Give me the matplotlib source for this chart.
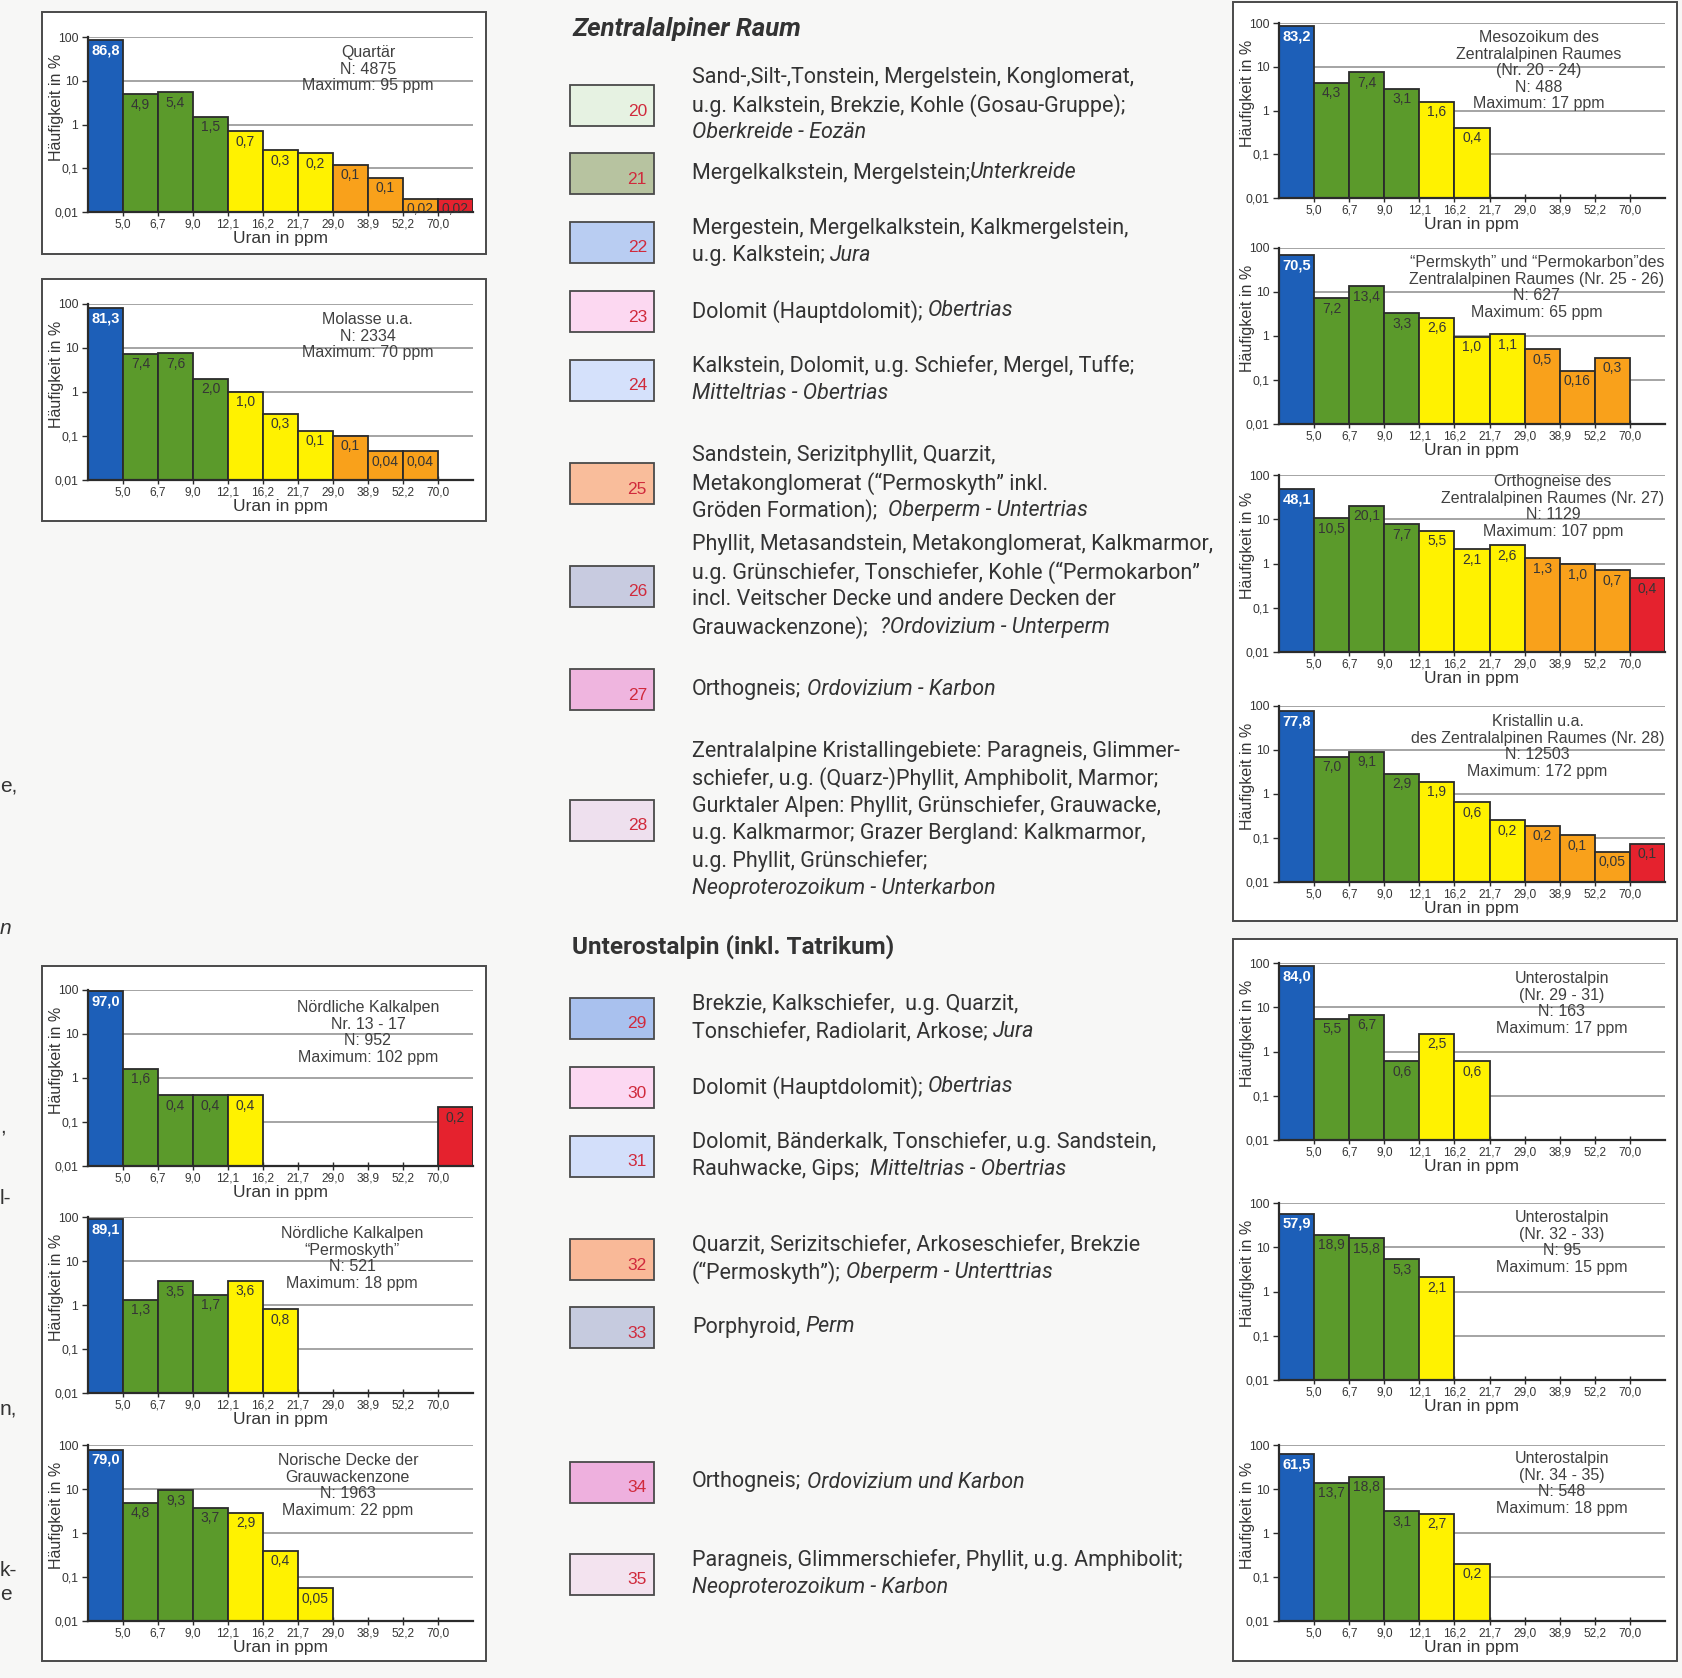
import matplotlib
matplotlib.use("Agg")
import matplotlib.pyplot as plt
from matplotlib.patches import Rectangle
from matplotlib.ticker import NullLocator

W, H = 1683, 1678
CHART_FONT = "Liberation Sans"
LEGEND_FONT = "Roboto"
TXT = "#353535"

# --- data ---------------------------------------------------------------
bin_edges = ["5,0", "6,7", "9,0", "12,1", "16,2", "21,7", "29,0", "38,9", "52,2", "70,0"]
bin_colors = ["#1d5fb8"] + ["#5b9a2b"] * 3 + ["#fff200"] * 3 + ["#f9a11b"] * 3 + ["#e5222e"]

quartaer_h = [86.8, 4.9, 5.4, 1.5, 0.7, 0.26, 0.22, 0.12, 0.06, 0.02, 0.02]
quartaer_lbl = ["86,8", "4,9", "5,4", "1,5", "0,7", "0,3", "0,2", "0,1", "0,1", "0,02", "0,02"]
molasse_h = [81.3, 7.4, 7.6, 2.0, 1.0, 0.32, 0.13, 0.1, 0.045, 0.045]
molasse_lbl = ["81,3", "7,4", "7,6", "2,0", "1,0", "0,3", "0,1", "0,1", "0,04", "0,04"]
nka_h = [97.0, 1.6, 0.41, 0.41, 0.41, 0, 0, 0, 0, 0, 0.215]
nka_lbl = ["97,0", "1,6", "0,4", "0,4", "0,4", "", "", "", "", "", "0,2"]
nka_perm_h = [89.1, 1.3, 3.5, 1.7, 3.6, 0.8]
nka_perm_lbl = ["89,1", "1,3", "3,5", "1,7", "3,6", "0,8"]
norisch_h = [79.0, 4.8, 9.3, 3.7, 2.9, 0.4, 0.055]
norisch_lbl = ["79,0", "4,8", "9,3", "3,7", "2,9", "0,4", "0,05"]
meso_h = [83.2, 4.3, 7.4, 3.1, 1.6, 0.4]
meso_lbl = ["83,2", "4,3", "7,4", "3,1", "1,6", "0,4"]
permo_h = [70.5, 7.2, 13.4, 3.3, 2.6, 0.95, 1.1, 0.5, 0.16, 0.32]
permo_lbl = ["70,5", "7,2", "13,4", "3,3", "2,6", "1,0", "1,1", "0,5", "0,16", "0,3"]
ortho_h = [48.1, 10.5, 20.1, 7.7, 5.5, 2.1, 2.6, 1.3, 0.97, 0.71, 0.46]
ortho_lbl = ["48,1", "10,5", "20,1", "7,7", "5,5", "2,1", "2,6", "1,3", "1,0", "0,7", "0,4"]
krist_h = [77.8, 7.0, 9.1, 2.9, 1.9, 0.65, 0.25, 0.19, 0.115, 0.049, 0.074]
krist_lbl = ["77,8", "7,0", "9,1", "2,9", "1,9", "0,6", "0,2", "0,2", "0,1", "0,05", "0,1"]
uo1_h = [84.0, 5.5, 6.7, 0.6, 2.5, 0.6]
uo1_lbl = ["84,0", "5,5", "6,7", "0,6", "2,5", "0,6"]
uo2_h = [57.9, 18.9, 15.8, 5.3, 2.1]
uo2_lbl = ["57,9", "18,9", "15,8", "5,3", "2,1"]
uo3_h = [61.5, 13.7, 18.8, 3.1, 2.7, 0.2]
uo3_lbl = ["61,5", "13,7", "18,8", "3,1", "2,7", "0,2"]

titles = {
    "A": "Quartär\nN: 4875\nMaximum: 95 ppm",
    "B": "Molasse u.a.\nN: 2334\nMaximum: 70 ppm",
    "C": "Nördliche Kalkalpen\nNr. 13 - 17\nN: 952\nMaximum: 102 ppm",
    "D": "Nördliche Kalkalpen\n“Permoskyth”\nN: 521\nMaximum: 18 ppm",
    "E": "Norische Decke der\nGrauwackenzone\nN: 1963\nMaximum: 22 ppm",
    "F": "Mesozoikum des\nZentralalpinen Raumes\n(Nr. 20 - 24)\nN: 488\nMaximum: 17 ppm",
    "G": "“Permskyth” und “Permokarbon”des\nZentralalpinen Raumes (Nr. 25 - 26)\nN: 627\nMaximum: 65 ppm",
    "H": "Orthogneise des\nZentralalpinen Raumes (Nr. 27)\nN: 1129\nMaximum: 107 ppm",
    "I": "Kristallin u.a.\ndes Zentralalpinen Raumes (Nr. 28)\nN: 12503\nMaximum: 172 ppm",
    "J": "Unterostalpin\n(Nr. 29 - 31)\nN: 163\nMaximum: 17 ppm",
    "K": "Unterostalpin\n(Nr. 32 - 33)\nN: 95\nMaximum: 15 ppm",
    "L": "Unterostalpin\n(Nr. 34 - 35)\nN: 548\nMaximum: 18 ppm",
}

legend_nums = list(range(20, 36))
legend_colors = ["#e6f2e2", "#b7c3a0", "#b9cdf2", "#fcd8f1", "#d5e1fb", "#f9bd9b", "#c8cbe0", "#efb5df",
                 "#eee0ee", "#a9c1ee", "#fcd8f2", "#d3dffa", "#f9b998", "#c6cbdf", "#eeb0de", "#f3e3ef"]
legend_texts = [
    ["Sand-,Silt-,Tonstein, Mergelstein, Konglomerat,", "u.g. Kalkstein, Brekzie, Kohle (Gosau-Gruppe);",
     "*Oberkreide - Eozän*"],
    ["Mergelkalkstein, Mergelstein;*Unterkreide*"],
    ["Mergestein, Mergelkalkstein, Kalkmergelstein,", "u.g. Kalkstein; *Jura*"],
    ["Dolomit (Hauptdolomit); *Obertrias*"],
    ["Kalkstein, Dolomit, u.g. Schiefer, Mergel, Tuffe;", "*Mitteltrias - Obertrias*"],
    ["Sandstein, Serizitphyllit, Quarzit,", "Metakonglomerat (“Permoskyth” inkl.",
     "Gröden Formation);  *Oberperm - Untertrias*"],
    ["Phyllit, Metasandstein, Metakonglomerat, Kalkmarmor,", "u.g. Grünschiefer, Tonschiefer, Kohle (“Permokarbon”",
     "incl. Veitscher Decke und andere Decken der", "Grauwackenzone);  *?Ordovizium - Unterperm*"],
    ["Orthogneis; *Ordovizium - Karbon*"],
    ["Zentralalpine Kristallingebiete: Paragneis, Glimmer-", "schiefer, u.g. (Quarz-)Phyllit, Amphibolit, Marmor;",
     "Gurktaler Alpen: Phyllit, Grünschiefer, Grauwacke,", "u.g. Kalkmarmor; Grazer Bergland: Kalkmarmor,",
     "u.g. Phyllit, Grünschiefer;", "*Neoproterozoikum - Unterkarbon*"],
    ["Brekzie, Kalkschiefer,  u.g. Quarzit,", "Tonschiefer, Radiolarit, Arkose; *Jura*"],
    ["Dolomit (Hauptdolomit); *Obertrias*"],
    ["Dolomit, Bänderkalk, Tonschiefer, u.g. Sandstein,", "Rauhwacke, Gips;  *Mitteltrias - Obertrias*"],
    ["Quarzit, Serizitschiefer, Arkoseschiefer, Brekzie", "(“Permoskyth”); *Oberperm - Unterttrias*"],
    ["Porphyroid, *Perm*"],
    ["Orthogneis; *Ordovizium und Karbon*"],
    ["Paragneis, Glimmerschiefer, Phyllit, u.g. Amphibolit;", "*Neoproterozoikum - Karbon*"],
]
edge_fragments = [("e,", False), ("n", True), (",", False), ("l-", False), ("n,", False), ("k-", False), ("e", False)]

# --- layout (pixels) ----------------------------------------------------
legend_tops = [85, 153, 222, 291, 360, 463, 566, 669, 800, 998, 1067, 1136, 1239, 1307, 1462, 1554]
fragment_y = [786, 929, 1127, 1199, 1409, 1570, 1595]

fig = plt.figure(figsize=(W / 100, H / 100), dpi=100, facecolor="#f7f7f6")
renderer = fig.canvas.get_renderer()


def fx(x):
    return x / W


def fy(y):
    return 1 - y / H


def frame(x0, y0, x1, y1):
    fig.add_artist(Rectangle((fx(x0), fy(y1)), (x1 - x0) / W, (y1 - y0) / H, transform=fig.transFigure,
                             facecolor="white", edgecolor="#4a4a4a", lw=1.4, zorder=-5))


def chart(x0, x1, ytop, ybot, heights, labels, title, tx, tdy):
    ax = fig.add_axes([fx(x0), fy(ybot), (x1 - x0) / W, (ybot - ytop) / H])
    ax.set_facecolor("none")
    ax.set_yscale("log")
    ax.set_ylim(0.01, 100)
    ax.set_xlim(0, 11)
    for v in [0.1, 1, 10, 100]:
        ax.axhline(v, color="#8c8c8c", lw=1.1, zorder=0)
    xs = [i for i, h in enumerate(heights) if h > 0]
    ax.bar(xs, [heights[i] for i in xs], width=1, align="edge", color=[bin_colors[i] for i in xs],
           edgecolor="#2b2b2b", lw=1.3, zorder=2)
    for i in xs:
        blue = i == 0
        ax.annotate(labels[i], xy=(i + 0.5, heights[i]), xytext=(0, -2.5), textcoords="offset points",
                    ha="center", va="top", fontsize=10.5 if blue else 10, family=CHART_FONT,
                    color="white" if blue else TXT, weight="bold" if blue else "normal", zorder=3)
    ax.set_xticks(range(1, 11))
    ax.set_xticklabels(bin_edges, fontsize=8.6, family=CHART_FONT, color=TXT)
    ax.set_yticks([0.01, 0.1, 1, 10, 100])
    ax.set_yticklabels(["0,01", "0,1", "1", "10", "100"], fontsize=8.8, family=CHART_FONT, color=TXT)
    ax.yaxis.set_minor_locator(NullLocator())
    ax.tick_params(axis="x", direction="inout", length=6, width=1, pad=2, color="#2b2b2b")
    ax.tick_params(axis="y", direction="out", length=4, width=1, pad=3, color="#2b2b2b")
    for s in ["top", "right"]:
        ax.spines[s].set_visible(False)
    for s in ["left", "bottom"]:
        ax.spines[s].set_color("#2b2b2b")
        ax.spines[s].set_linewidth(1.6)
    ax.set_xlabel("Uran in ppm", fontsize=12.5, family=CHART_FONT, color=TXT)
    ax.xaxis.set_label_coords(0.5, -19 / (ybot - ytop))
    ax.set_ylabel("Häufigkeit in %", fontsize=11.5, family=CHART_FONT, color=TXT)
    ax.yaxis.set_label_coords(-24 / (x1 - x0), 0.6)
    ax.annotate(title, xy=(tx, 1), xycoords="axes fraction", xytext=(0, -(tdy - 8) * 0.72),
                textcoords="offset points", ha="center", va="top", fontsize=11.5, family=CHART_FONT,
                color="#404040", linespacing=1.13, zorder=1)
    return ax


def seg_width(s, style, size, weight="normal"):
    t = fig.text(0, 0, s, fontsize=size, family=LEGEND_FONT, style=style, weight=weight)
    w = t.get_window_extent(renderer).width
    t.remove()
    return w


def rich_line(x, y, line, size):
    space = {st: seg_width("a a", st, size) - seg_width("aa", st, size) for st in ["normal", "italic"]}
    cx = x
    for k, part in enumerate(line.split("*")):
        if not part:
            continue
        st = "italic" if k % 2 else "normal"
        lead = len(part) - len(part.lstrip(" "))
        trail = len(part) - len(part.rstrip(" "))
        core = part.strip(" ")
        cx += lead * space[st]
        fig.text(fx(cx), fy(y), core, fontsize=size, family=LEGEND_FONT, style=st, color="#333333",
                 ha="left", va="center_baseline")
        cx += seg_width(core, st, size) + trail * space[st]


# --- frames -------------------------------------------------------------
frame(42, 12, 486, 254)
frame(42, 279, 486, 521)
frame(42, 966, 486, 1661)
frame(1233, 2, 1677, 921)
frame(1233, 939, 1677, 1661)

# --- charts -------------------------------------------------------------
chart(88, 473, 37, 212, quartaer_h, quartaer_lbl, titles["A"], 0.727, 16)
chart(88, 473, 304, 480, molasse_h, molasse_lbl, titles["B"], 0.727, 16)
chart(88, 473, 990, 1166, nka_h, nka_lbl, titles["C"], 0.727, 18)
chart(88, 473, 1217, 1393, nka_perm_h, nka_perm_lbl, titles["D"], 0.686, 17)
chart(88, 473, 1445, 1621, norisch_h, norisch_lbl, titles["E"], 0.675, 16)
chart(1279, 1665, 23, 198, meso_h, meso_lbl, titles["F"], 0.674, 15)
chart(1279, 1665, 248, 424, permo_h, permo_lbl, titles["G"], 0.668, 15)
chart(1279, 1665, 475, 652, ortho_h, ortho_lbl, titles["H"], 0.71, 7)
chart(1279, 1665, 706, 882, krist_h, krist_lbl, titles["I"], 0.67, 16)
chart(1279, 1665, 963, 1140, uo1_h, uo1_lbl, titles["J"], 0.733, 16)
chart(1279, 1665, 1203, 1380, uo2_h, uo2_lbl, titles["K"], 0.733, 15)
chart(1279, 1665, 1445, 1621, uo3_h, uo3_lbl, titles["L"], 0.733, 14)

# --- legend -------------------------------------------------------------
# font sizes fitted to the widths of reference lines
body_size = 16 * 522 / seg_width(legend_texts[6][0], "normal", 16)
head1 = "Zentralalpiner Raum"
head2 = "Unterostalpin (inkl. Tatrikum)"
head1_size = 16 * 229 / seg_width(head1, "italic", 16, "bold")
head2_size = 16 * 323 / seg_width(head2, "normal", 16, "bold")

fig.text(fx(572), fy(29), head1, fontsize=head1_size, family=LEGEND_FONT, style="italic",
         weight="bold", color="#333333", va="center")
fig.text(fx(572), fy(947), head2, fontsize=head2_size, family=LEGEND_FONT,
         weight="bold", color="#333333", va="center")

LINE = 27.4
for num, col, lines, top in zip(legend_nums, legend_colors, legend_texts, legend_tops):
    fig.add_artist(Rectangle((fx(570), fy(top + 41)), 84 / W, 41 / H, transform=fig.transFigure,
                             facecolor=col, edgecolor="#4a4a4a", lw=1.3))
    fig.text(fx(647), fy(top + 26), str(num), fontsize=12.5, family=CHART_FONT, color="#d02a3c",
             ha="right", va="center")
    mid = top + 20.5 - 3
    n = len(lines)
    for k, line in enumerate(lines):
        rich_line(692, mid + (k - (n - 1) / 2) * LINE, line, body_size)

for (s, it), y in zip(edge_fragments, fragment_y):
    fig.text(fx(0), fy(y), s, fontsize=15, family=CHART_FONT, style="italic" if it else "normal",
             color="#333333", ha="left", va="center")

fig.savefig("out.png", dpi=100, facecolor=fig.get_facecolor())
